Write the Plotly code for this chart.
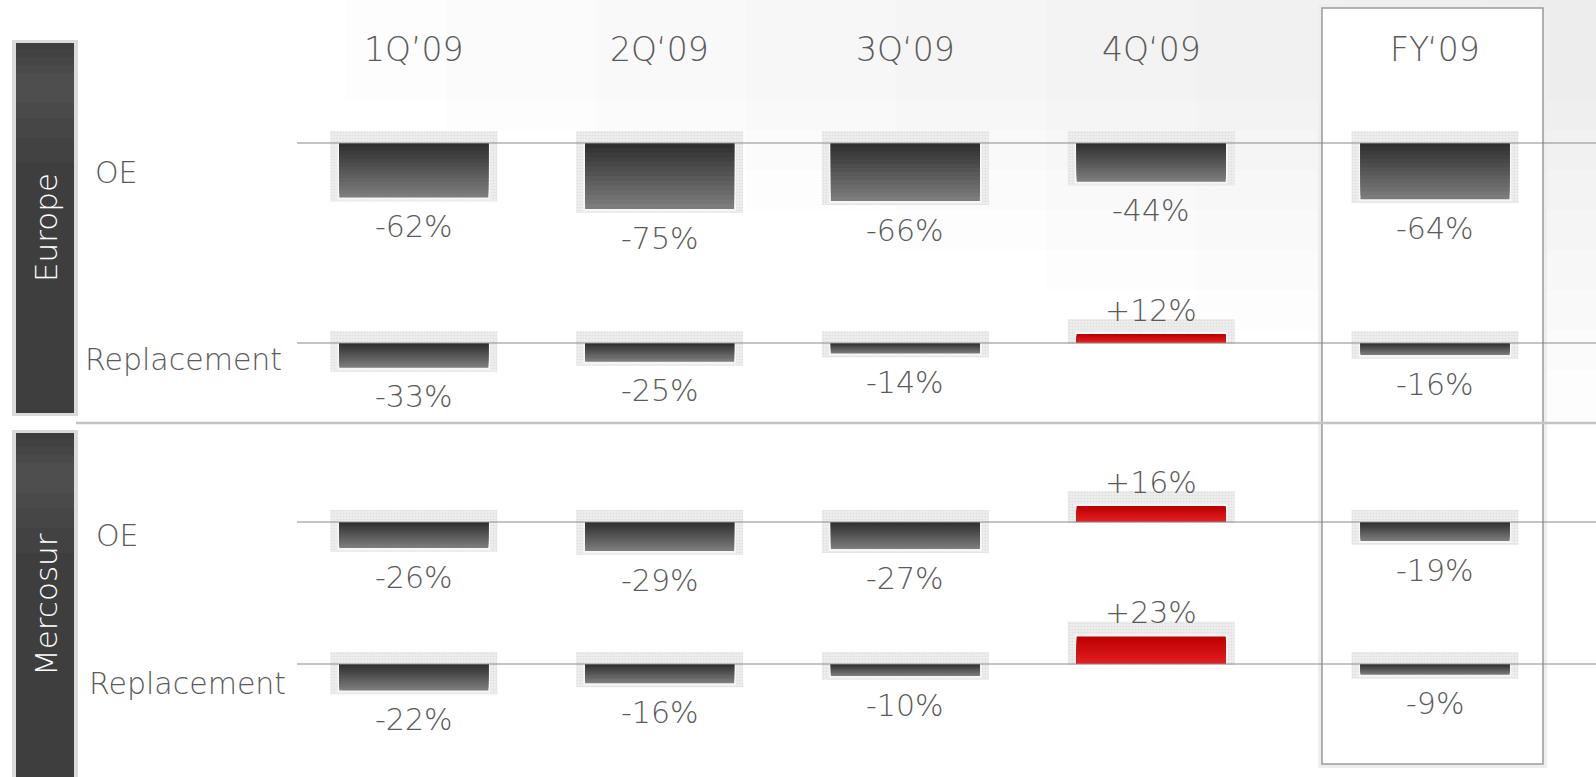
import plotly.graph_objects as go

W, H = 1596, 777

# ---------------- data ----------------
columns = ["1Q’09", "2Q‘09", "3Q‘09", "4Q‘09", "FY‘09"]
row_labels = ["OE", "Replacement", "OE", "Replacement"]
regions = ["Europe", "Mercosur"]
europe_oe = [-62, -75, -66, -44, -64]
europe_repl = [-33, -25, -14, 12, -16]
mercosur_oe = [-26, -29, -27, 16, -19]
mercosur_repl = [-22, -16, -10, 23, -9]
series = [europe_oe, europe_repl, mercosur_oe, mercosur_repl]

# ---------------- layout constants (pixels) ----------------
baseline_px = [143, 343, 522, 664]
px_per_pct = [0.88, 0.75, 1.0, 1.2]
row_dom_px = [(95, 215), (295, 380), (470, 560), (610, 705)]
q_c0, q_step = 413.8, 245.8
fy_c = 1435
bar_px = 149
TXT = "#5a5a5a"
FONT = "DejaVu Sans"


def py(p):
    return 1 - p / H


def pxp(p):
    return p / W


def lerp(c1, c2, t):
    return "rgb(%d,%d,%d)" % tuple(round(a + (b - a) * t) for a, b in zip(c1, c2))


fig = go.Figure()

bar_w = bar_px / q_step
halo_w = (bar_px + 18) / q_step
N = 14
dark, light = (42, 42, 42), (124, 124, 124)
red_near, red_far = (230, 34, 38), (188, 0, 0)

for r, vals_all in enumerate(series):
    s = px_per_pct[r]
    yname = "y" if r == 0 else "y%d" % (r + 1)
    for xname, cats, vals in (("x", columns[:4], vals_all[:4]), ("x2", columns[4:], vals_all[4:])):
        # soft halo behind each bar
        bases = [12 / s if v < 0 else -1 / s for v in vals]
        lens = [v - 16 / s if v < 0 else v + 16 / s for v in vals]
        fig.add_trace(go.Bar(x=cats, y=lens, base=bases, width=halo_w,
                             marker=dict(color="#e6e6e6", line=dict(width=0),
                                         pattern=dict(shape=".", fgcolor="#cfcfcf",
                                                      bgcolor="#eeeeee", size=3, solidity=0.35)),
                             xaxis=xname, yaxis=yname, hoverinfo="skip", showlegend=False))
        # light rim
        bases2 = [1 / s if v < 0 else 0 for v in vals]
        lens2 = [v - 3 / s if v < 0 else v + 2 / s for v in vals]
        fig.add_trace(go.Bar(x=cats, y=lens2, base=bases2, width=bar_w + 4 / q_step,
                             marker=dict(color="#f6f6f6", line=dict(width=0)),
                             xaxis=xname, yaxis=yname, hoverinfo="skip", showlegend=False))
        # gradient layers (largest first)
        for k in range(N):
            f = 1 - k / N
            cols = [lerp(dark, light, f) if v < 0 else lerp(red_near, red_far, f) for v in vals]
            fig.add_trace(go.Bar(x=cats, y=[v * f for v in vals], base=0, width=bar_w,
                                 marker=dict(color=cols, line=dict(width=0)),
                                 xaxis=xname, yaxis=yname, hoverinfo="skip", showlegend=False))

annotations = []
# column headers
for i, c in enumerate(columns):
    annotations.append(dict(xref="x" if i < 4 else "x2", yref="paper", x=c, y=py(49),
                            text=c, showarrow=False, xanchor="center", yanchor="middle",
                            font=dict(family=FONT, size=33, color=TXT, weight=200)))
# value labels
for r, vals_all in enumerate(series):
    yname = "y" if r == 0 else "y%d" % (r + 1)
    for i, v in enumerate(vals_all):
        annotations.append(dict(xref="x" if i < 4 else "x2", yref=yname, x=columns[i], y=v,
                                text="%+d%%" % v, showarrow=False, xanchor="center",
                                yanchor="middle", yshift=-29 if v < 0 else 24,
                                font=dict(family=FONT, size=30, color=TXT, weight=200)))
# row labels
row_lab_pos = [(116, 172), (183, 360), (117, 535), (187, 683)]
for lab, (lx, ly) in zip(row_labels, row_lab_pos):
    annotations.append(dict(xref="paper", yref="paper", x=pxp(lx), y=py(ly), text=lab,
                            showarrow=False, xanchor="center", yanchor="middle",
                            font=dict(family=FONT, size=30, color=TXT, weight=200)))
# region labels
for lab, ly in zip(regions, [228, 605]):
    annotations.append(dict(xref="paper", yref="paper", x=pxp(46), y=py(ly), text=lab,
                            textangle=-90, showarrow=False, xanchor="center", yanchor="middle",
                            font=dict(family=FONT, size=31, color="white", weight=200)))

shapes = []


def rect(x0, y0, x1, y1, fill, line=None, lw=0, layer="below"):
    shapes.append(dict(type="rect", xref="paper", yref="paper", x0=pxp(x0), x1=pxp(x1),
                       y0=py(y1), y1=py(y0), fillcolor=fill, layer=layer,
                       line=dict(width=lw, color=line or "rgba(0,0,0,0)")))


def hline(x0, x1, y, color, w, layer="above"):
    shapes.append(dict(type="line", xref="paper", yref="paper", x0=pxp(x0), x1=pxp(x1),
                       y0=py(y), y1=py(y), line=dict(color=color, width=w), layer=layer))


# faint slide background gradient towards the top-right corner
for w_, h_ in [(1250, 100), (1150, 130), (1000, 170), (850, 210), (700, 250),
               (550, 290), (400, 330), (250, 370), (110, 420)]:
    rect(W - w_, 0, W, h_, "rgba(0,0,0,0.007)")
# FY box
rect(1318, 4, 1547, 768, "#eeeeee")
rect(1322, 8, 1543, 764, "white", "#9a9a9a", 1.5)
# region boxes
for (y0, y1) in [(43, 413), (433, 790)]:
    rect(12, y0 - 3, 78, y1 + 3, "#dadada")
    rect(16, y0, 74, y1, "#3e3e3e")
    for a0, a1 in [(6, 120), (14, 95), (22, 75), (30, 60)]:
        rect(16, y0 + a0, 74, y0 + a1, "rgba(255,255,255,0.022)")
# separator between regions
hline(76, 1596, 423, "#c4c4c4", 2.5, layer="below")
# baselines
for b in baseline_px:
    hline(297, 1596, b, "#8a8a8a", 1.2)

layout = dict(
    width=W, height=H, margin=dict(l=0, r=0, t=0, b=0),
    paper_bgcolor="white", plot_bgcolor="rgba(0,0,0,0)",
    barmode="overlay", showlegend=False,
    annotations=annotations, shapes=shapes,
    xaxis=dict(domain=[pxp(q_c0 - 0.5 * q_step), pxp(q_c0 + 3.5 * q_step)], type="category",
               categoryorder="array", categoryarray=columns[:4], range=[-0.5, 3.5],
               visible=False, fixedrange=True),
    xaxis2=dict(domain=[pxp(fy_c - 0.5 * q_step), pxp(fy_c + 0.5 * q_step)], type="category",
                categoryorder="array", categoryarray=columns[4:], range=[-0.5, 0.5],
                visible=False, fixedrange=True, anchor="y"),
)
for r in range(4):
    top, bot = row_dom_px[r]
    b, s = baseline_px[r], px_per_pct[r]
    key = "yaxis" if r == 0 else "yaxis%d" % (r + 1)
    layout[key] = dict(domain=[py(bot), py(top)], range=[-(bot - b) / s, (b - top) / s],
                       visible=False, fixedrange=True, anchor="x")

fig.update_layout(**layout)
fig.write_html("out.html", config={"displayModeBar": False})
